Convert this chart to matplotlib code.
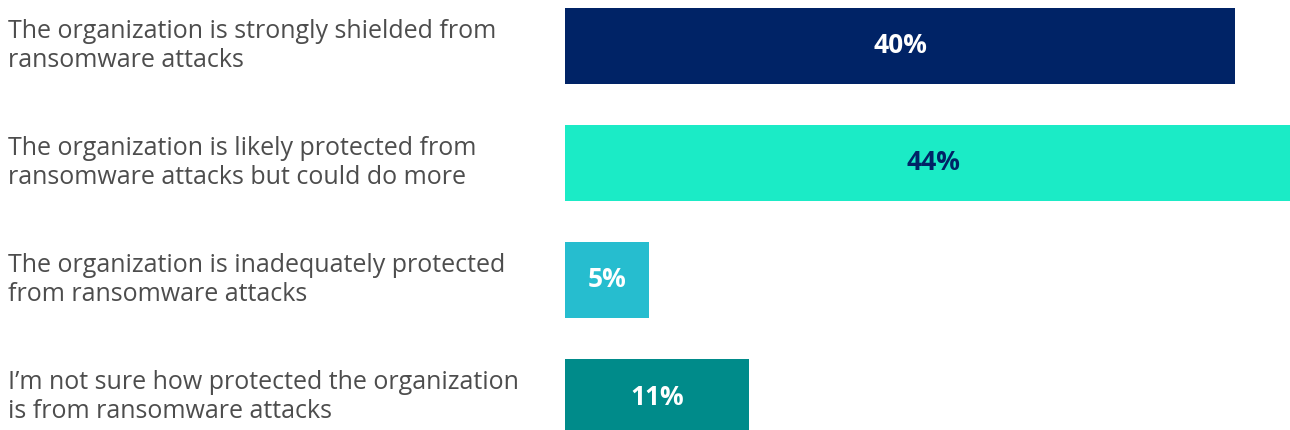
import matplotlib
matplotlib.use("Agg")
import matplotlib.pyplot as plt
import matplotlib.transforms as mtransforms

# survey answers, top to bottom
labels = [
    "The organization is strongly shielded from\nransomware attacks",
    "The organization is likely protected from\nransomware attacks but could do more",
    "The organization is inadequately protected\nfrom ransomware attacks",
    "I\u2019m not sure how protected the organization\nis from ransomware attacks",
]
values = [40, 44, 5, 11]
bar_colors = ["#002366", "#1BEBC6", "#26BDCF", "#008B8A"]
text_colors = ["white", "#002366", "white", "white"]

plt.rcParams["font.family"] = ["Open Sans", "DejaVu Sans"]

fig = plt.figure(figsize=(12.9, 4.3), dpi=100)
ax = fig.add_axes([565 / 1290, 0, 1 - 565 / 1290, 1])

pos = list(range(len(values)))
ax.barh(pos, values, height=0.65, color=bar_colors)
ax.set_xlim(0, 725 / 16.75)
ax.set_ylim(3 + 0.282, -0.393)
ax.axis("off")

# category text sits in figure space on the left, centred on each bar
trans = mtransforms.blended_transform_factory(fig.transFigure, ax.transData)
for y, lab in zip(pos, labels):
    ax.text(8 / 1290, y, lab, transform=trans, ha="left", va="center",
            fontsize=18, color="#4d4d4d", linespacing=1.18, clip_on=False)

for y, v, tc in zip(pos, values, text_colors):
    ax.text(v / 2, y, f"{v}%", ha="center", va="center",
            fontsize=19, fontweight="bold", color=tc)

fig.savefig("out.png", dpi=100)
